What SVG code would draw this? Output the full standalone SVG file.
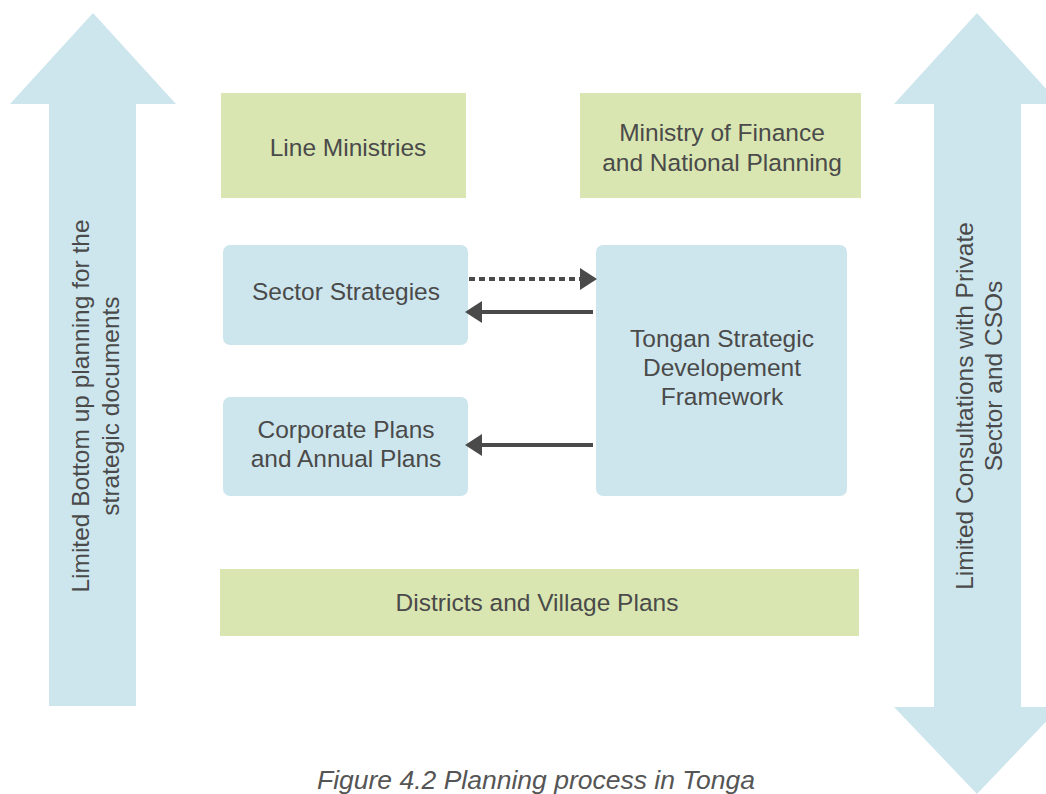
<svg xmlns="http://www.w3.org/2000/svg" width="1046" height="794" viewBox="0 0 1046 794">
<style>
.t{font-family:"Liberation Sans",Arial,Helvetica,sans-serif;font-size:24.5px;fill:#4a4a4a;text-anchor:middle}
.cap{font-family:"Liberation Sans",Arial,Helvetica,sans-serif;font-size:26.5px;font-style:italic;fill:#555555;text-anchor:middle}
.blue{fill:#cde6ed}
.green{fill:#d9e6b1}
.ln{stroke:#4a4a4a;stroke-width:4;fill:none}
</style>
<defs>
<marker id="ah" markerUnits="userSpaceOnUse" markerWidth="18" markerHeight="24" refX="0" refY="11" orient="auto" viewBox="0 0 18 24">
<path d="M0,0 L17,11 L0,22 Z" fill="#4a4a4a"/>
</marker>
</defs>
<rect width="1046" height="794" fill="#ffffff"/>

<g id="arrow-left">
<polygon class="blue" points="93,13 176,104 136,104 136,706 49,706 49,104 10,104"/>
<text class="t" transform="translate(89,406) rotate(-90)">Limited Bottom up planning for the</text>
<text class="t" transform="translate(119,406) rotate(-90)">strategic documents</text>
</g>

<g id="arrow-right">
<polygon class="blue" points="977,13 1060,104 1021,104 1021,707 1060,707 977,794 894,707 934,707 934,104 894,104"/>
<text class="t" transform="translate(973,406) rotate(-90)">Limited Consultations with Private</text>
<text class="t" transform="translate(1002,376) rotate(-90)">Sector and CSOs</text>
</g>

<g id="line-ministries">
<rect class="green" x="221" y="93" width="245" height="105"/>
<text class="t" x="348" y="156">Line Ministries</text>
</g>

<g id="ministry-finance">
<rect class="green" x="580" y="93" width="281" height="105"/>
<text class="t" x="722" y="141">Ministry of Finance</text>
<text class="t" x="722" y="171">and National Planning</text>
</g>

<g id="sector-strategies">
<rect class="blue" x="223" y="245" width="245" height="100" rx="7"/>
<text class="t" x="346" y="300">Sector Strategies</text>
</g>

<g id="tsdf">
<rect class="blue" x="596" y="245" width="251" height="251" rx="7"/>
<text class="t" x="722" y="347">Tongan Strategic</text>
<text class="t" x="722" y="376">Developement</text>
<text class="t" x="722" y="405">Framework</text>
</g>

<g id="corporate-plans">
<rect class="blue" x="223" y="397" width="245" height="99" rx="7"/>
<text class="t" x="346" y="438">Corporate Plans</text>
<text class="t" x="346" y="467">and Annual Plans</text>
</g>

<g id="districts">
<rect class="green" x="220" y="569" width="639" height="67"/>
<text class="t" x="537" y="611">Districts and Village Plans</text>
</g>

<g id="connectors">
<line class="ln" x1="469" y1="279" x2="580" y2="279" stroke-dasharray="6 4" marker-end="url(#ah)"/>
<line class="ln" x1="593" y1="312" x2="482" y2="312" marker-end="url(#ah)"/>
<line class="ln" x1="593" y1="445" x2="482" y2="445" marker-end="url(#ah)"/>
</g>

<text class="cap" x="536" y="789">Figure 4.2 Planning process in Tonga</text>
</svg>
